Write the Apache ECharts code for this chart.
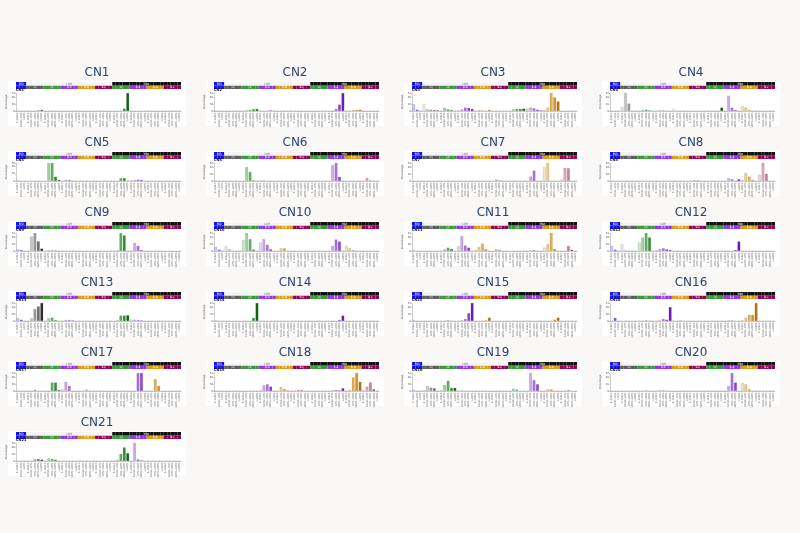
<!DOCTYPE html>
<html>
<head>
<meta charset="utf-8">
<script src="https://cdn.jsdelivr.net/npm/echarts@6/dist/echarts.min.js"></script>
<style>
html,body{margin:0;padding:0;background:#f9f8f6;}
#chart{width:800px;height:533px;}
</style>
</head>
<body>
<div id="chart"></div>
<script>
// ---- categories ----
const GROUPS = ['HD','LOH:1','LOH:2','LOH:3-4','LOH:5-8','LOH:9+','Het:2','Het:3-4','Het:5-8','Het:9+'];
const HD_SIZES = ['0-100kb','100kb-1Mb','>1Mb'];
const SIZES = ['0-100kb','100kb-1Mb','1Mb-10Mb','10Mb-40Mb','>40Mb'];
const HEADER_BOTTOM_LABELS = ['','1','2','3-4','5-8','9+','2','3-4','5-8','9+'];
const SIG_NAMES = ['CN1','CN2','CN3','CN4','CN5','CN6','CN7','CN8','CN9','CN10','CN11','CN12','CN13','CN14','CN15','CN16','CN17','CN18','CN19','CN20','CN21'];

// ---- values (percent), order: HD(3) | LOH1 | LOH2 | LOH3-4 | LOH5-8 | LOH9+ | Het2 | Het3-4 | Het5-8 | Het9+ ----
const CN1  = [0,0,0, 0,0,1,2,3, 0,0,0,0,0.5, 0,0,0,0,0, 0,0,0,0,0, 0,0,0,0,0, 0,0,1,7,53, 0,0,0,0,0.5, 0,0,0,0,0, 0,0,0,0,0];
const CN2  = [0,0,0, 0,0,0,0,0.5, 1,2,3,5,6, 1,1,1,2,1.5, 0,0,0,0,1.5, 0,0,0,0,0, 0,0,0,0.5,1, 0,0,6,19,53, 1,1.5,2,3,4, 0,0,0,0,0];
const CN3  = [20,4,1, 20,5,4,3,2, 1,9,5,3,1, 2,5,10,9,6, 1,3,2,1,3, 1,1,1,1,1, 1,5,6,6,7, 7,10,8,4,2, 3,10,53,40,28, 0,0,0,0,1];
const CN4  = [0,0,1, 12,53,22,0,0, 0,3,4,2,1, 1,2,2,1,0, 5,1,0,0,0, 0,0,0,0,0, 0,0,0,1,10, 0,45,10,3,0, 14,10,3,0,0, 0,0,0,0,0];
const CN5  = [2,1,0, 1,1,0,0,0, 1,50,50,12,3, 1,3,3,1,0, 0,0,0,0,0, 0,0,0,0,0, 0,1,8,8,1, 1,3,4,3,1, 0,1,1,0,0, 0,0,0,0,0];
const CN6  = [1,0,0, 0,0,0,0,0, 0,40,26,2,0, 1,2,1,0,0, 0,0,0,0,0, 0,0,0,0,0, 0,0,1,1,1, 0,46,52,12,0, 0,0,0,0,0, 1,9,2,0,0];
const CN7  = [0,0,0, 0,0,0,0,0, 0,1,1,0,0, 0,0,0,0,0, 0,0,0,0,0, 1,4,2,0,0, 0,0,0,1,0, 0,13,30,0,0, 40,52,1,0,0, 4,38,37,0,0];
const CN8  = [0,0,0, 0,0,0,0,0, 0,1,1,1,0, 0,0,0,0,0, 0,0,1,1,0, 1,3,2,1,0, 0,0,0,0,0, 0,8,5,1,5, 2,23,13,3,0, 18,52,21,0,0];
const CN9  = [5,3,0, 0,42,52,28,7, 1,2,2,2,1, 0,1,1,1,0, 0,0,0,0,0, 0,0,0,0,1, 0,2,52,45,0, 0,23,15,3,0, 0,0,1,0,0, 0,1,0,0,0];
const CN10 = [12,4,0, 15,5,1,0,0, 33,53,35,4,0, 25,35,18,5,0, 1,8,8,1,0, 0,1,1,0,0, 0,1,1,1,0, 0,15,34,28,0, 15,8,2,0,0, 0,0,0,0,0];
const CN11 = [2,1,0, 1,1,0,0,0, 1,5,10,6,1, 14,44,16,10,0, 3,12,22,5,0, 0,5,3,0,0, 0,0,0,0,0, 0,2,3,1,0, 10,20,53,6,0, 0,0,15,4,0];
const CN12 = [15,4,0, 20,2,0,0,0, 25,40,53,40,0, 2,6,8,5,3, 0,1,0,0,0, 0,0,0,0,0, 0,0,1,1,0, 0,0,0,3,28, 1,1,1,0,0, 0,0,0,0,0];
const CN13 = [8,4,0, 0,8,35,43,53, 1,8,10,3,0, 1,3,3,2,0, 0,0,0,0,0, 0,0,0,0,0, 0,2,16,16,17, 4,4,3,2,0, 0,0,0,0,0, 0,0,0,0,0];
const CN14 = [2,0,0, 0,0,0,0,0, 0,0,1,9,53, 0,0,0,0,0, 0,0,0,0,0, 0,0,0,0,0, 0,0,0,0,0, 0,0,0,3,16, 0,0,0,0,0, 0,0,0,0,0];
const CN15 = [3,0,0, 0,0,0,0,0, 0,1,2,1,0, 0,2,6,23,53, 0,0,1,2,10, 0,0,0,0,0, 0,0,0,0,0, 0,0,0,0,0, 0,0,1,4,10, 0,0,1,1,0];
const CN16 = [0,9,0, 0,0,0,0,0, 0,1,2,1,0, 0,2,6,4,41, 0,1,2,1,0, 0,0,0,0,0, 0,0,0,0,0, 0,2,2,1,0, 2,10,18,18,53, 0,1,1,1,0];
const CN17 = [0,0,0, 0,0,3,1,0, 0,0,25,25,3, 5,27,15,0,0, 0,1,4,1,0, 0,0,0,0,0, 0,0,0,0,0, 0,0,53,53,0, 0,0,35,15,0, 0,0,0,0,0];
const CN18 = [0,0,0, 0,0,0,0,0, 0,0,0,1,0, 2,17,20,13,0, 1,12,6,2,0, 1,3,3,1,0, 0,0,0,0,0, 0,2,3,2,8, 0,3,40,53,27, 2,13,25,5,0];
const CN19 = [3,0,0, 3,15,10,8,0, 2,18,30,9,9, 1,2,1,1,0, 0,1,1,0,0, 0,0,1,0,0, 0,7,4,1,0, 0,53,32,20,0, 1,5,5,1,0, 0,1,3,1,0];
const CN20 = [0,0,0, 0,1,1,0,0, 0,1,2,1,0, 1,2,2,1,0, 0,0,0,0,0, 0,0,0,0,0, 0,0,0,1,0, 0,15,53,25,0, 23,20,5,0,0, 0,1,1,0,0];
const CN21 = [0,0,0, 0,1,5,6,4, 1,8,6,4,0, 0,0,0,0,0, 0,0,0,0,0, 0,0,0,0,0, 0,3,21,40,23, 0,53,5,2,0, 0,0,0,0,0, 0,0,0,0,0];

const PANELS = [CN1,CN2,CN3,CN4,CN5,CN6,CN7,CN8,CN9,CN10,CN11,CN12,CN13,CN14,CN15,CN16,CN17,CN18,CN19,CN20,CN21];

// ---- styles ----
const SHADES = {
  HD: ['#c3c7fb','#5a63f0','#0d10d6'],
  gray: ['#e8e8e8','#c4c4c4','#9c9c9c','#6b6b6b','#2e2e2e'],
  green: ['#cce7cc','#9ecf9e','#62b062','#2f902f','#126612'],
  purple: ['#e4d1f5','#cda6ec','#ac72df','#8d3fd8','#6c1dc4'],
  orange: ['#f4e1bd','#efcb8a','#e6b04e','#d8961f','#b8780b'],
  maroon: ['#f1d1dd','#e2a5ba','#cf7f9b','#aa476d','#7b1040']
};
const GROUP_SHADE = ['HD','gray','green','purple','orange','maroon','green','purple','orange','maroon'];
const HEAD_BOTTOM = ['#1414e6','#5e5e5e','#3a9a3a','#9536e6','#de9b1b','#960052','#3a9a3a','#9536e6','#de9b1b','#960052'];
const HEAD_TOP    = ['#1414e6','#f4f4f4','#f4f4f4','#f4f4f4','#f4f4f4','#f4f4f4','#111111','#111111','#111111','#111111'];

// build categories and per-category attributes
const categories = [], catShade = [], catGroup = [];
GROUPS.forEach((g, gi) => {
  const sz = gi === 0 ? HD_SIZES : SIZES;
  sz.forEach((s, si) => {
    categories.push(g + ':' + s);
    catShade.push(SHADES[GROUP_SHADE[gi]][si]);
    catGroup.push(gi);
  });
});
const groupStart = [];
catGroup.forEach((g, k) => { if (groupStart[g] === undefined) groupStart[g] = k; });

const option = {
  backgroundColor: '#f9f8f6',
  animation: false,
  graphic: [],
  grid: [], xAxis: [], yAxis: [], series: []
};

const COLW = 198, ROWH = 70;
PANELS.forEach((vals, i) => {
  const col = i % 4, row = Math.floor(i / 4);
  const x0 = 16 + COLW * col;
  const y0 = ROWH * row;
  // panel box and titles
  option.graphic.push({type:'rect', z:0, shape:{x: x0 - 8, y: 81 + y0, width: 178, height: 45}, style:{fill:'#ffffff'}});
  option.graphic.push({type:'text', z:5, x: x0 + 81, y: 73 + y0,
    style:{text: SIG_NAMES[i], fill:'#2b4370', font:'12px "DejaVu Sans", sans-serif', align:'center', verticalAlign:'middle'}});
  option.graphic.push({type:'text', z:5, x: x0, y: 90.5 + y0,
    style:{text: SIG_NAMES[i], fill:'#111', font:'bold 3.5px "DejaVu Sans", sans-serif', align:'left', verticalAlign:'middle'}});

  // header grid
  const hg = option.grid.length;
  option.grid.push({left: x0, top: 82 + y0, width: 165, height: 7});
  option.xAxis.push({type:'category', gridIndex: hg, data: categories, show:false, boundaryGap:true});
  option.yAxis.push({type:'value', gridIndex: hg, min:0, max:2, show:false});
  const bottomData = categories.map((c, k) => {
    const g = catGroup[k];
    const mid = groupStart[g] + (g === 0 ? 1 : 2);
    const d = {value:1, itemStyle:{color: HEAD_BOTTOM[g]}};
    if (k === mid && HEADER_BOTTOM_LABELS[g]) d.label = {show:true, formatter: HEADER_BOTTOM_LABELS[g]};
    return d;
  });
  const topData = categories.map((c, k) => {
    const g = catGroup[k];
    const d = {value:1, itemStyle:{color: HEAD_TOP[g]}};
    if (k === 1) d.label = {show:true, formatter:'HD'};
    if (k === 15) d.label = {show:true, formatter:'LOH', color:'#777'};
    if (k === 37) d.label = {show:true, formatter:'Het', offset:[1.7,0]};
    return d;
  });
  const headLabel = {show:false, position:'inside', fontSize:3, color:'#ffffff', fontFamily:'DejaVu Sans'};
  option.series.push({type:'bar', xAxisIndex: hg, yAxisIndex: hg, stack:'h'+i, barCategoryGap:'0%', barGap:'0%',
    data: bottomData, label: headLabel, silent:true});
  option.series.push({type:'bar', xAxisIndex: hg, yAxisIndex: hg, stack:'h'+i, barCategoryGap:'0%', barGap:'0%',
    data: topData, label: headLabel, silent:true});

  // main grid
  const mg = option.grid.length;
  option.grid.push({left: x0, top: 93 + y0, width: 165, height: 18});
  option.xAxis.push({type:'category', gridIndex: mg, data: categories,
    axisLine:{show:true, lineStyle:{color:'#9a9a9a', width:0.5}},
    axisTick:{show:false},
    axisLabel:{interval:0, rotate:90, fontSize:2.6, margin:1.5, color:'#6a6a6a', fontFamily:'DejaVu Sans',
      formatter:(v) => v.split(':').pop()}});
  option.yAxis.push({type:'value', gridIndex: mg, min:0, max:(e) => e.max, splitNumber:3,
    axisLine:{show:true, lineStyle:{color:'#9a9a9a', width:0.5}},
    axisTick:{show:true, length:1, lineStyle:{color:'#9a9a9a', width:0.5}},
    splitLine:{show:false},
    axisLabel:{fontSize:2.6, margin:1, color:'#555', fontFamily:'DejaVu Sans'},
    name:'Percentage', nameLocation:'middle', nameGap:6, nameRotate:90,
    nameTextStyle:{fontSize:2.6, color:'#555', fontFamily:'DejaVu Sans'}});
  option.series.push({type:'bar', xAxisIndex: mg, yAxisIndex: mg, barCategoryGap:'18%',
    data: vals.map((v, k) => ({value: v, itemStyle:{color: catShade[k], borderColor:'rgba(0,0,0,0.25)', borderWidth:0.4}}))});
});

const chart = echarts.init(document.getElementById('chart'), null, {renderer:'canvas'});
chart.setOption(option);
</script>
</body>
</html>
